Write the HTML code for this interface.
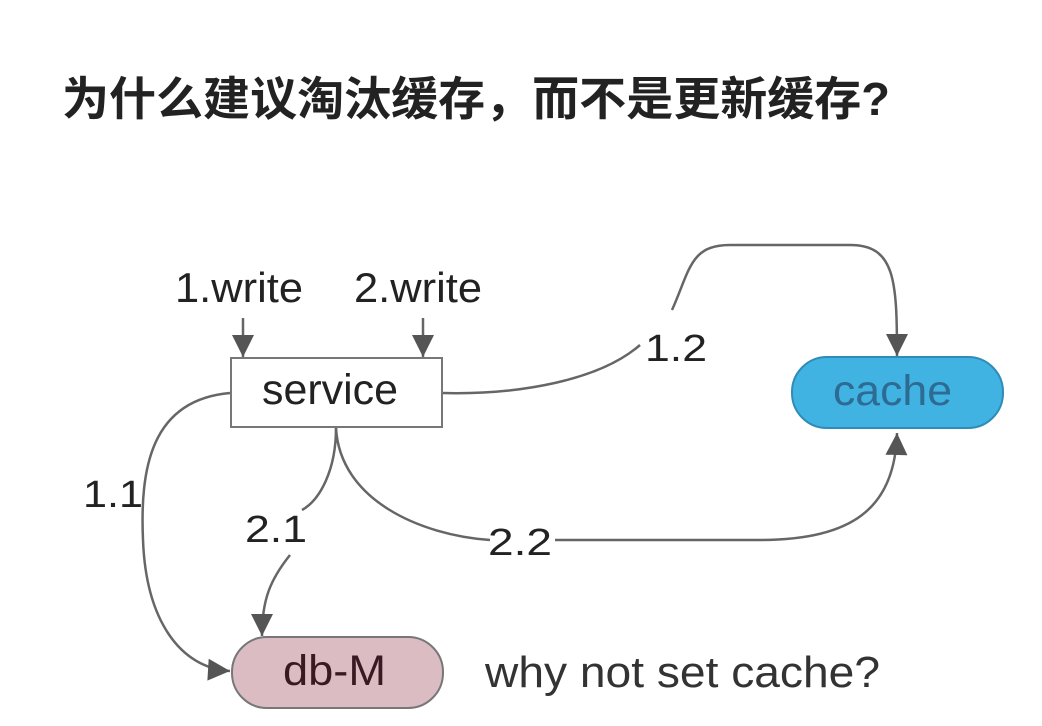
<!DOCTYPE html>
<html><head><meta charset="utf-8"><style>
html,body{margin:0;padding:0;background:#fff}
svg{display:block}
</style></head><body>
<svg width="1042" height="726" viewBox="0 0 1042 726" xmlns="http://www.w3.org/2000/svg">
<defs>
<marker id="b" viewBox="0 0 10 10" refX="10" refY="5" markerWidth="24" markerHeight="22" markerUnits="userSpaceOnUse" orient="auto">
<path d="M0,0 L10,5 L0,10 z" fill="#555"/></marker>
</defs>
<text x="62" y="115" font-family="'Liberation Sans','Noto Sans CJK SC',sans-serif" font-size="46" font-weight="bold" fill="#222" textLength="828" lengthAdjust="spacingAndGlyphs">为什么建议淘汰缓存，而不是更新缓存?</text>
<g font-family="'Liberation Sans',sans-serif" fill="#222" font-size="42">
<text x="175" y="302" textLength="128" lengthAdjust="spacingAndGlyphs">1.write</text>
<text x="354" y="302" textLength="128" lengthAdjust="spacingAndGlyphs">2.write</text>
</g>
<g fill="none" stroke="#666" stroke-width="2.5">
<path d="M243,318 V357" marker-end="url(#b)"/>
<path d="M423,318 V357" marker-end="url(#b)"/>
<path d="M230,393 C150,400 140,470 143,540 C146,620 180,668 230,671" marker-end="url(#b)"/>
<path d="M336,428 C336,470 320,500 302,510"/>
<path d="M290,555 C270,580 262,600 262,636" marker-end="url(#b)"/>
<path d="M336,428 C340,500 420,535 490,540"/>
<path d="M555,540 H760 C850,540 895,510 897,433" marker-end="url(#b)"/>
<path d="M442,393 C520,395 600,380 640,345"/>
<path d="M672,310 C690,270 690,245 730,245 H850 C895,245 897,280 897,356" marker-end="url(#b)"/>
</g>
<rect x="231" y="358" width="211" height="69" fill="#fff" stroke="#777" stroke-width="2"/>
<text x="262" y="404" font-family="'Liberation Sans',sans-serif" font-size="43" fill="#222" textLength="136" lengthAdjust="spacingAndGlyphs">service</text>
<rect x="792" y="357" width="211" height="71" rx="35" fill="#41b3e3" stroke="#2f8cb6" stroke-width="2"/>
<text x="833" y="405" font-family="'Liberation Sans',sans-serif" font-size="43" fill="#2d6b93" textLength="119" lengthAdjust="spacingAndGlyphs">cache</text>
<rect x="232" y="637" width="211" height="71" rx="35" fill="#dcbcc3" stroke="#777" stroke-width="2"/>
<text x="283" y="685" font-family="'Liberation Sans',sans-serif" font-size="43" fill="#3a1a22" textLength="103" lengthAdjust="spacingAndGlyphs">db-M</text>
<g font-family="'Liberation Sans',sans-serif" fill="#222" font-size="38">
<text x="83" y="507" textLength="60" lengthAdjust="spacingAndGlyphs">1.1</text>
<text x="245" y="542" textLength="62" lengthAdjust="spacingAndGlyphs">2.1</text>
<text x="488" y="555" textLength="64" lengthAdjust="spacingAndGlyphs">2.2</text>
<text x="645" y="361" textLength="62" lengthAdjust="spacingAndGlyphs">1.2</text>
</g>
<text x="485" y="687" font-family="'Liberation Sans',sans-serif" font-size="44" fill="#333" textLength="395" lengthAdjust="spacingAndGlyphs">why not set cache?</text>
</svg>
</body></html>
